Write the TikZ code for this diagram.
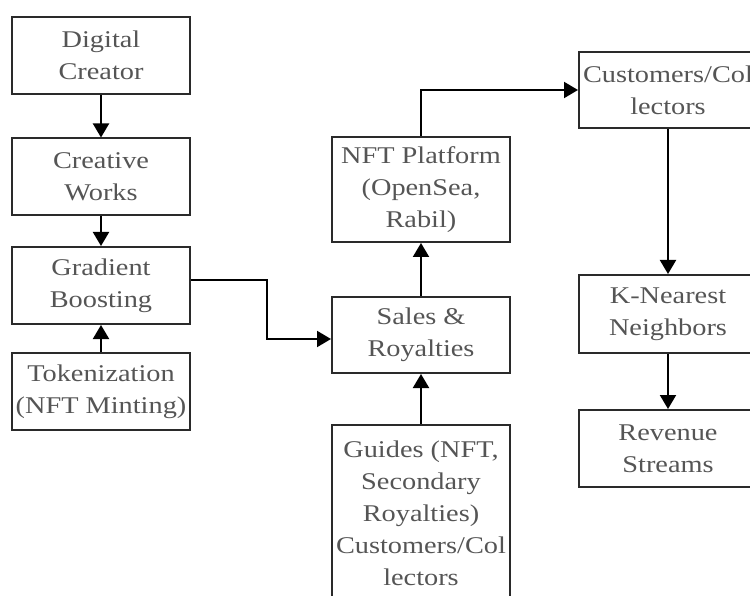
\documentclass[tikz,border=0pt]{standalone}
\usepackage{fontspec}
\setmainfont{Liberation Serif}[FakeStretch=1.18]
\usetikzlibrary{arrows.meta}
\definecolor{txt}{HTML}{555555}
\definecolor{edge}{HTML}{2A2A2A}
\begin{document}
\begin{tikzpicture}[x=1pt,y=-1pt,
  box/.style={draw=edge,line width=2pt,minimum width=178pt,minimum height=77pt,inner sep=0pt,
    align=center,text=txt,font=\fontsize{24}{32}\selectfont},
  conn/.style={line width=2pt,draw=black,-{Triangle[width=16pt,length=14pt]}}]
\useasboundingbox (0,0) rectangle (750,596);
\clip (0,0) rectangle (750,596);
\node[box] (dc) at (101,55.5) {Digital\\Creator};
\node[box] (cw) at (101,177) {Creative\\Works};
\node[box] (gb) at (101,285.5) {Gradient\\Boosting};
\node[box] (tk) at (101,391.5) {Tokenization\\(NFT Minting)};
\node[box,minimum height=105pt] (nft) at (421,189.5) {NFT Platform\\(OpenSea,\\Rabil)};
\node[box,minimum height=76pt] (sr) at (421,335) {Sales \&\\Royalties};
\node[box,minimum height=177pt] (gu) at (421,513.5) {Guides (NFT,\\Secondary\\Royalties)\\Customers/Col\\lectors};
\node[box,minimum height=76pt] (cc) at (668,90) {Customers/Col\\lectors};
\node[box,minimum height=78pt] (kn) at (668,314) {K-Nearest\\Neighbors};
\node[box] (rs) at (668,448.5) {Revenue\\Streams};
\draw[conn] (dc) -- (cw);
\draw[conn] (cw) -- (gb);
\draw[conn] (tk) -- (gb);
\draw[conn] ([yshift=5pt]gb.east) -- ++(76,0) |- ([yshift=-4pt]sr.west);
\draw[conn] (sr) -- (nft);
\draw[conn] (gu) -- (sr);
\draw[conn] (nft.north) |- (cc.west);
\draw[conn] (cc) -- (kn);
\draw[conn] (kn) -- (rs);
\end{tikzpicture}
\end{document}
